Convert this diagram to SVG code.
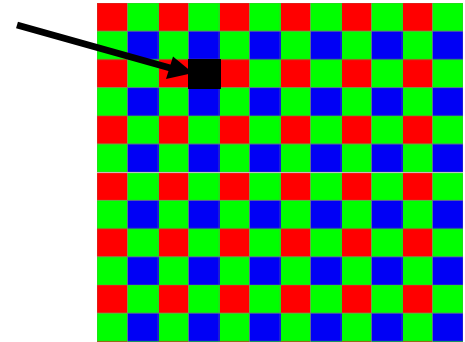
<svg xmlns="http://www.w3.org/2000/svg" width="465" height="342" viewBox="0 0 465 342">
  <style>
    .r { fill: #ff0000; }
    .g { fill: #00ff00; }
    .b { fill: #0000f5; }
    .cell { stroke: #7f7f60; stroke-opacity: 0.55; stroke-width: 0.8; }
    .ink { fill: #000000; }
  </style>
  <defs>
    <pattern id="bayer" patternUnits="userSpaceOnUse" x="97" y="3" width="61" height="56.4">
      <rect class="r cell" x="0" y="0" width="30.5" height="28.2"/>
      <rect class="g cell" x="30.5" y="0" width="30.5" height="28.2"/>
      <rect class="g cell" x="0" y="28.2" width="30.5" height="28.2"/>
      <rect class="b cell" x="30.5" y="28.2" width="30.5" height="28.2"/>
    </pattern>
  </defs>
  <rect width="465" height="342" fill="#ffffff"/>
  <g id="sensor-grid">
    <rect x="97" y="3" width="366" height="339" fill="url(#bayer)"/>
    <line x1="97" y1="172.6" x2="463" y2="172.6" stroke="#c8c8c8" stroke-width="1"/>
  </g>
  <g id="connectors">
    <line x1="17" y1="25" x2="172" y2="68.5" stroke="#000" stroke-width="7"/>
    <polygon class="ink" points="173,56.5 166,79 193,73"/>
  </g>
  <g id="selected-pixel">
    <rect class="ink" x="188" y="59" width="33" height="30"/>
  </g>
</svg>
